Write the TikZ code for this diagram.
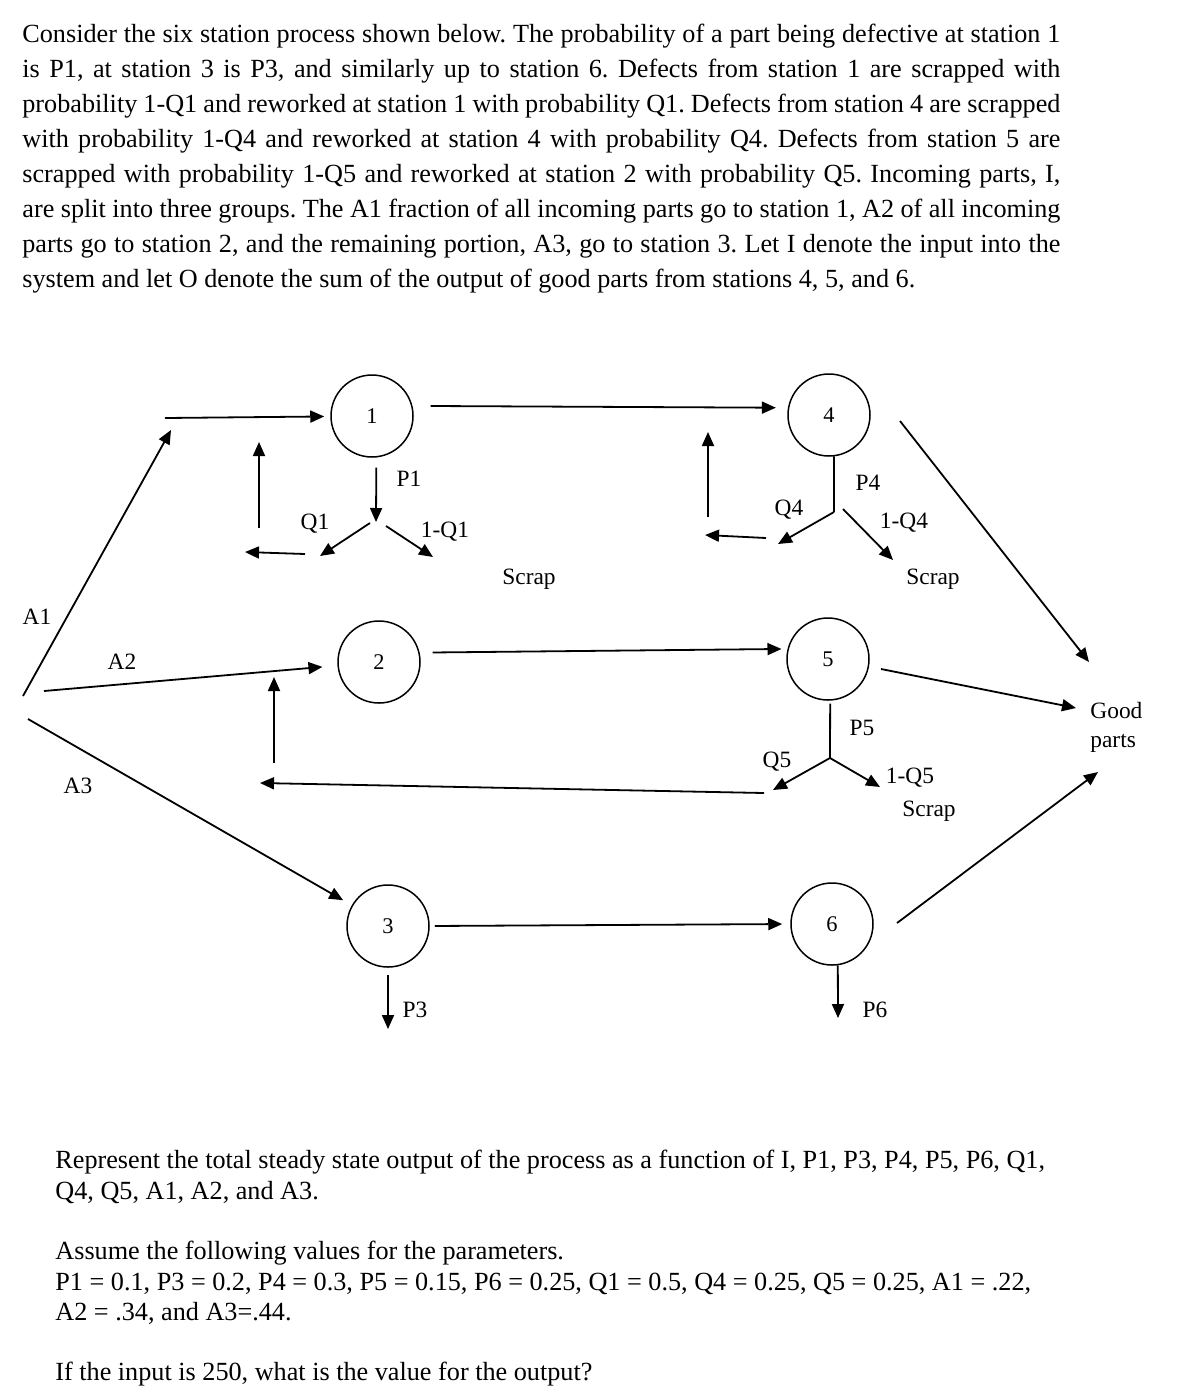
\documentclass[tikz,border=0pt]{standalone}
\usepackage{fontspec}
\setmainfont{Liberation Serif}
\frenchspacing
\usetikzlibrary{arrows.meta}
\tikzset{
  station/.style={draw,circle,line width=0.75pt,minimum size=41pt,inner sep=0pt,font=\fontsize{11.2}{13}\selectfont},
  lab/.style={inner sep=0pt,font=\fontsize{11.7}{14.5}\selectfont},
  flow/.style={->,line width=0.9pt},
  stem/.style={line width=0.9pt}
}
\begin{document}
\begin{tikzpicture}[x=0.5pt,y=-0.5pt,>={Triangle[length=7pt,width=6pt]}]
\useasboundingbox(0,0)rectangle(1200,1394);
% problem text
\node[anchor=north west,inner sep=0pt,text width=519pt,align=justify,font=\fontsize{13.1}{17.5}\selectfont](intro)at(22,24){Consider the six station process shown below. The probability of a part being defective at station 1\linebreak
is P1, at station 3 is P3, and similarly up to station 6. Defects from station 1 are scrapped with\linebreak
probability 1-Q1 and reworked at station 1 with probability Q1. Defects from station 4 are scrapped\linebreak
with probability 1-Q4 and reworked at station 4 with probability Q4. Defects from station 5 are\linebreak
scrapped with probability 1-Q5 and reworked at station 2 with probability Q5. Incoming parts, I,\linebreak
are split into three groups. The A1 fraction of all incoming parts go to station 1, A2 of all incoming\linebreak
parts go to station 2, and the remaining portion, A3, go to station 3. Let I denote the input into the\linebreak
system and let O denote the sum of the output of good parts from stations 4, 5, and 6.};
\node[anchor=north west,inner sep=0pt,align=left,font=\fontsize{13.1}{15.15}\selectfont](task)at(55,1150){Represent the total steady state output of the process as a function of I, P1, P3, P4, P5, P6, Q1,\\
Q4, Q5, A1, A2, and A3.\\[15.15pt]
Assume the following values for the parameters.\\
P1 = 0.1, P3 = 0.2, P4 = 0.3, P5 = 0.15, P6 = 0.25, Q1 = 0.5, Q4 = 0.25, Q5 = 0.25, A1 = .22,\\
A2 = .34, and A3=.44.\\[15.15pt]
If the input is 250, what is the value for the output?};
% stations
\node[station](s1)at(372,416){1};
\node[station](s2)at(379,662){2};
\node[station](s3)at(388,926){3};
\node[station](s4)at(829,415){4};
\node[station](s5)at(828,659){5};
\node[station](s6)at(832,924){6};
\node[lab,anchor=north west,align=left](good)at(1090,702){Good\\parts};
% free ends and junctions
\path(23,696)coordinate(a1s)(171,430)coordinate(a1e)(165,418)coordinate(in1)
(44,691)coordinate(a2s)(28,719)coordinate(a3s)
(376,522)coordinate(j1)(370,523)coordinate(q1s)(320,556)coordinate(q1e)
(386,526)coordinate(nq1s)(433,557)coordinate(nq1e)
(305,554)coordinate(r1s)(245,552)coordinate(r1e)(259,528)coordinate(r1u)(259,442)coordinate(r1t)
(834,512)coordinate(j4)(778,544)coordinate(q4e)(843,509)coordinate(nq4s)(893,560)coordinate(nq4e)
(766,538)coordinate(r4s)(705,535)coordinate(r4e)(708,517)coordinate(r4u)(708,432)coordinate(r4t)
(830,758)coordinate(j5)(773,790)coordinate(q5e)(880,787)coordinate(nq5e)
(764,793)coordinate(r5s)(260,783)coordinate(r5e)(274,763)coordinate(r5u)(274,677)coordinate(r5t)
(900,421)coordinate(g4s)(1089,662)coordinate(g4e)
(881,669)coordinate(g5s)(1076,708)coordinate(g5e)
(897,923)coordinate(g6s)(1098,772)coordinate(g6e)
(388,1029)coordinate(p3e)(838,1018)coordinate(p6e);
% incoming parts
\draw[flow](a1s)--(a1e);
\draw[flow,shorten >=3pt](in1)--(s1);
\draw[flow,shorten >=7.5pt](a2s)--(s2);
\draw[flow,shorten >=5pt](a3s)--(s3);
% station 1 defects
\draw[flow,shorten <=5pt](s1.-84)--(j1);
\draw[flow](q1s)--(q1e);
\draw[flow](nq1s)--(nq1e);
\draw[flow](r1s)--(r1e);
\draw[flow](r1u)--(r1t);
% station 4 defects
\draw[stem](s4.-83)--(j4);
\draw[flow](j4)--(q4e);
\draw[flow](nq4s)--(nq4e);
\draw[flow](r4s)--(r4e);
\draw[flow](r4u)--(r4t);
% station 5 defects
\draw[stem,shorten <=1.5pt](s5.-87)--(j5);
\draw[flow](j5)--(q5e);
\draw[flow](j5)--(nq5e);
\draw[flow](r5s)--(r5e);
\draw[flow](r5u)--(r5t);
% stations 3 and 6
\draw[flow,shorten <=3.5pt](s3.south)--(p3e);
\draw[flow](s6.-82)--(p6e);
% flow between stations
\draw[flow,shorten <=9pt,shorten >=6pt](s1.14)--(s4.170);
\draw[flow,shorten <=6.5pt,shorten >=3pt](s2.13)--(s5.166);
\draw[flow,shorten <=2.5pt,shorten >=4pt](s3.east)--(s6.west);
\draw[flow](g4s)--(g4e);
\draw[flow](g5s)--(g5e);
\draw[flow](g6s)--(g6e);
% labels
\path(409,479)node[lab](lp1){P1}(315,524)node[lab](lq1){Q1}(445,532)node[lab](lnq1){1-Q1}(529,579)node[lab](lsc1){Scrap}
(868,483)node[lab](lp4){P4}(789,510)node[lab](lq4){Q4}(904,523)node[lab](lnq4){1-Q4}(933,579)node[lab](lsc4){Scrap}
(862,728)node[lab](lp5){P5}(777,762)node[lab](lq5){Q5}(910,778)node[lab](lnq5){1-Q5}(929,811)node[lab](lsc5){Scrap}
(415,1010)node[lab](lp3){P3}(875,1010)node[lab](lp6){P6}
(37,617)node[lab](la1){A1}(122,662)node[lab](la2){A2}(78,786)node[lab](la3){A3};
\end{tikzpicture}
\end{document}
